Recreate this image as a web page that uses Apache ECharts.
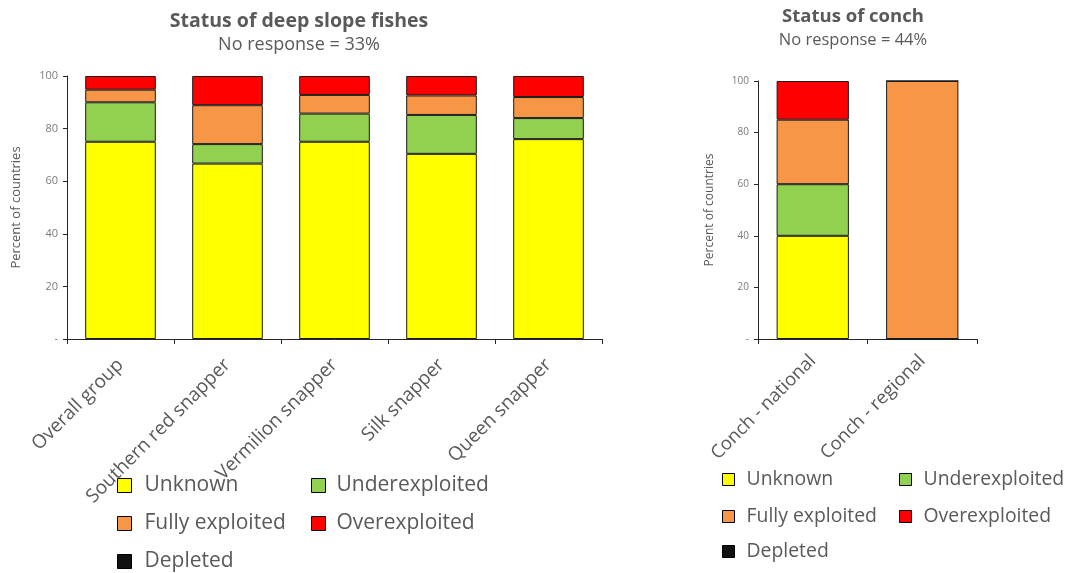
<!DOCTYPE html>
<html>
<head>
<meta charset="utf-8">
<script src="https://cdn.jsdelivr.net/npm/echarts@6/dist/echarts.min.js"></script>
<style>
html,body{margin:0;padding:0;background:#fff;}
#chart{width:1066px;height:573px;}
</style>
</head>
<body>
<div id="chart"></div>
<script>
// ---- Data ----
const fishCategories = ['Overall group', 'Southern red snapper', 'Vermilion snapper', 'Silk snapper', 'Queen snapper'];
const fishUnknown = [75, 66.7, 75, 70.4, 76];
const fishUnder = [15, 7.4, 10.7, 14.8, 8];
const fishFully = [4.8, 14.8, 7.1, 7.4, 8];
const fishOver = [5.2, 11.1, 7.2, 7.4, 8];
const fishDepleted = [0, 0, 0, 0, 0];

const conchCategories = ['Conch - national', 'Conch - regional'];
const conchUnknown = [40, 0];
const conchUnder = [20, 0];
const conchFully = [25, 100];
const conchOver = [15, 0];
const conchDepleted = [0, 0];

const yTicks = [0, 20, 40, 60, 80, 100];
const statusNames = ['Unknown', 'Underexploited', 'Fully exploited', 'Overexploited', 'Depleted'];

// ---- Styles ----
const colors = {
  'Unknown': '#FFFF00',
  'Underexploited': '#92D050',
  'Fully exploited': '#F79646',
  'Overexploited': '#FF0000',
  'Depleted': '#111111'
};
const grayText = '#595959';
const axisGray = '#7a7a7a';

function makeSeries(idx, arrays) {
  return statusNames.map((n, i) => ({
    name: n,
    type: 'bar',
    stack: 'total' + idx,
    xAxisIndex: idx,
    yAxisIndex: idx,
    barWidth: '66%',
    data: arrays[i],
    itemStyle: {
      color: colors[n],
      borderColor: '#1a1a1a',
      borderWidth: n === 'Depleted' ? 0 : 1
    },
    emphasis: { disabled: true },
    animation: false
  }));
}

function yAxis(gridIndex, labelSize, nameSize, nameGap) {
  return {
    gridIndex: gridIndex,
    type: 'value',
    min: 0,
    max: 100,
    interval: 20,
    name: 'Percent of countries',
    nameLocation: 'middle',
    nameGap: nameGap,
    nameRotate: 90,
    nameTextStyle: { color: grayText, fontSize: nameSize, fontFamily: 'Open Sans' },
    axisLine: { show: true, lineStyle: { color: '#262626', width: 1 } },
    axisTick: { show: true, length: 4, lineStyle: { color: '#262626' } },
    splitLine: { show: false },
    axisLabel: {
      color: axisGray,
      fontSize: labelSize,
      fontFamily: 'Open Sans',
      margin: 9,
      formatter: v => (yTicks.indexOf(v) === 0 ? '-' : String(v))
    }
  };
}

function xAxis(gridIndex, cats, fontSize, margin) {
  return {
    gridIndex: gridIndex,
    type: 'category',
    data: cats,
    axisLine: { show: true, lineStyle: { color: '#262626', width: 1 } },
    axisTick: { show: true, length: 5, alignWithLabel: false, lineStyle: { color: '#262626' } },
    axisLabel: {
      interval: 0,
      rotate: 45,
      color: grayText,
      fontSize: fontSize,
      fontFamily: 'Open Sans',
      margin: margin
    }
  };
}

function legendItem(name, left, top, fontSize, iconSize, gap) {
  return {
    data: [{ name: name, icon: 'rect', itemStyle: { color: colors[name], borderColor: '#000', borderWidth: 1 } }],
    left: left,
    top: top,
    padding: 0,
    itemWidth: iconSize,
    itemHeight: iconSize,
    selectedMode: false,
    textStyle: { color: grayText, fontSize: fontSize, fontFamily: 'Open Sans', padding: [0, 0, 0, gap] }
  };
}

const option = {
  backgroundColor: '#ffffff',
  animation: false,
  title: [
    { text: 'Status of deep slope fishes', subtext: 'No response = 33%', left: 294, top: 6, textAlign: 'center', itemGap: 5,
      textStyle: { color: grayText, fontSize: 19.5, fontWeight: 'bold', fontFamily: 'Open Sans' },
      subtextStyle: { color: grayText, fontSize: 18, fontFamily: 'Open Sans' } },
    { text: 'Status of conch', subtext: 'No response = 44%', left: 848, top: 2, textAlign: 'center', itemGap: 6,
      textStyle: { color: grayText, fontSize: 18.5, fontWeight: 'bold', fontFamily: 'Open Sans' },
      subtextStyle: { color: grayText, fontSize: 16.5, fontFamily: 'Open Sans' } }
  ],
  grid: [
    { left: 67, right: 464, top: 76, bottom: 234, containLabel: false, outerBoundsMode: 'none' },
    { left: 758, right: 89, top: 81, bottom: 234, containLabel: false, outerBoundsMode: 'none' }
  ],
  xAxis: [xAxis(0, fishCategories, 19, 23), xAxis(1, conchCategories, 18.4, 19)],
  yAxis: [yAxis(0, 11, 13, 44), yAxis(1, 10, 12, 42)],
  legend: [
    legendItem('Unknown', 117, 475, 21, 14, 8),
    legendItem('Underexploited', 311, 475, 21, 14, 6),
    legendItem('Fully exploited', 117, 513, 21, 14, 8),
    legendItem('Overexploited', 311, 513, 21, 14, 6),
    legendItem('Depleted', 117, 551, 21, 14, 8),
    legendItem('Unknown', 722, 470, 19.4, 12, 7),
    legendItem('Underexploited', 899, 470, 19.4, 12, 7),
    legendItem('Fully exploited', 722, 507, 19.4, 12, 7),
    legendItem('Overexploited', 899, 507, 19.4, 12, 7),
    legendItem('Depleted', 722, 542, 19.4, 12, 7)
  ],
  series: [].concat(
    makeSeries(0, [fishUnknown, fishUnder, fishFully, fishOver, fishDepleted]),
    makeSeries(1, [conchUnknown, conchUnder, conchFully, conchOver, conchDepleted])
  )
};

const chart = echarts.init(document.getElementById('chart'), null, { renderer: 'canvas' });
chart.setOption(option);
</script>
</body>
</html>
